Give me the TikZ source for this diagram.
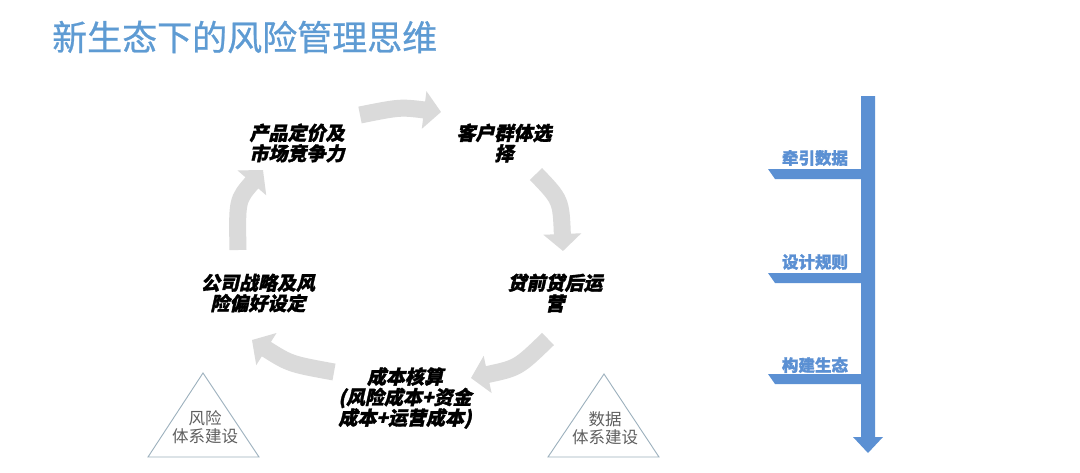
\documentclass[tikz,border=0pt]{standalone}
\usepackage{fontspec}
\usetikzlibrary{arrows.meta}
\newfontfamily\cjk{Noto Sans CJK SC}
\newfontfamily\cjkmed[FakeBold=0.7]{Noto Sans CJK SC}
\newfontfamily\cjkheavy[FakeBold=1.2]{Noto Sans CJK SC}
\newfontfamily\cjkit[FakeSlant=0.22,FakeBold=1.6]{Noto Sans CJK SC}
\definecolor{titleblue}{HTML}{5E9BD3}
\definecolor{barblue}{HTML}{5B90D3}
\definecolor{arrowgray}{HTML}{DADADA}
\definecolor{trigray}{HTML}{9CB0BD}
\definecolor{txtgray}{HTML}{5F5F5F}
\tikzset{
  cyctext/.style={inner sep=0pt, align=center, font=\cjkit\bfseries\fontsize{19}{20.5}\selectfont, text=black},
  cyc/.style={draw=arrowgray, line width=17pt, -{Triangle[width=37pt,length=17pt]}},
  tri/.style={draw=trigray, line width=0.9pt},
  trilabel/.style={inner sep=0pt, align=center, font=\cjk\fontsize{16.5}{18.5}\selectfont, text=txtgray},
  tab/.style={fill=barblue, draw=none},
  tablabel/.style={inner sep=0pt, font=\cjkheavy\bfseries\fontsize{16.5}{18}\selectfont, text=barblue}
}
\begin{document}
\begin{tikzpicture}[x=1pt,y=1pt,yscale=-1]
\useasboundingbox[fill=white] (0,0) rectangle (1080,472);

% title
\node[anchor=west, inner sep=0pt, font=\cjkmed\fontsize{35}{38}\selectfont, text=titleblue] (title) at (52,37) {新生态下的风险管理思维};

% cycle texts
\node[cyctext] (n1) at (297,143) {产品定价及\\市场竞争力};
\node[cyctext] (n2) at (504,143) {客户群体选\\择};
\node[cyctext] (n3) at (555,293) {贷前贷后运\\营};
\node[cyctext] (n4) at (258,293) {公司战略及风\\险偏好设定};
\node[cyctext] (n5) at (405,398) {成本核算\\(风险成本+资金\\成本+运营成本)};

% arrow ends
\coordinate (a1) at (360,115); \coordinate (c1) at (400,107); \coordinate (b1) at (441,112);
\coordinate (a2) at (536,174); \coordinate (c2) at (561,200); \coordinate (b2) at (563,251);
\coordinate (a3) at (548,339); \coordinate (c3) at (518,368); \coordinate (b3) at (471,378);
\coordinate (a4) at (334,372); \coordinate (c4) at (290,364); \coordinate (b4) at (252,340);
\coordinate (a5) at (238,250); \coordinate (c5) at (237,200); \coordinate (b5) at (263,170);

\draw[cyc] (a1) .. controls (c1) .. (b1);
\draw[cyc] (a2) .. controls (c2) .. (b2);
\draw[cyc] (a3) .. controls (c3) .. (b3);
\draw[cyc] (a4) .. controls (c4) .. (b4);
\draw[cyc] (a5) .. controls (c5) .. (b5);

% triangles
\draw[tri] (203,373) -- (259,457) -- (148,457) -- cycle;
\node[trilabel] (t1) at (205,427) {风险\\体系建设};
\draw[tri] (604,374) -- (659,457) -- (548,457) -- cycle;
\node[trilabel] (t2) at (605,428) {数据\\体系建设};

% vertical bar with arrow
\fill[barblue] (861,96) -- (875,96) -- (875,437) -- (883,437) -- (868,453) -- (853,437) -- (861,437) -- cycle;

% tabs
\fill[tab] (768,169) -- (861,169) -- (861,179) -- (775,179) -- cycle;
\fill[tab] (768,273) -- (861,273) -- (861,283) -- (775,283) -- cycle;
\fill[tab] (768,374) -- (861,374) -- (861,384) -- (775,384) -- cycle;
\node[tablabel] (l1) at (815,158) {牵引数据};
\node[tablabel] (l2) at (815,262) {设计规则};
\node[tablabel] (l3) at (815,365) {构建生态};
\end{tikzpicture}
\end{document}
